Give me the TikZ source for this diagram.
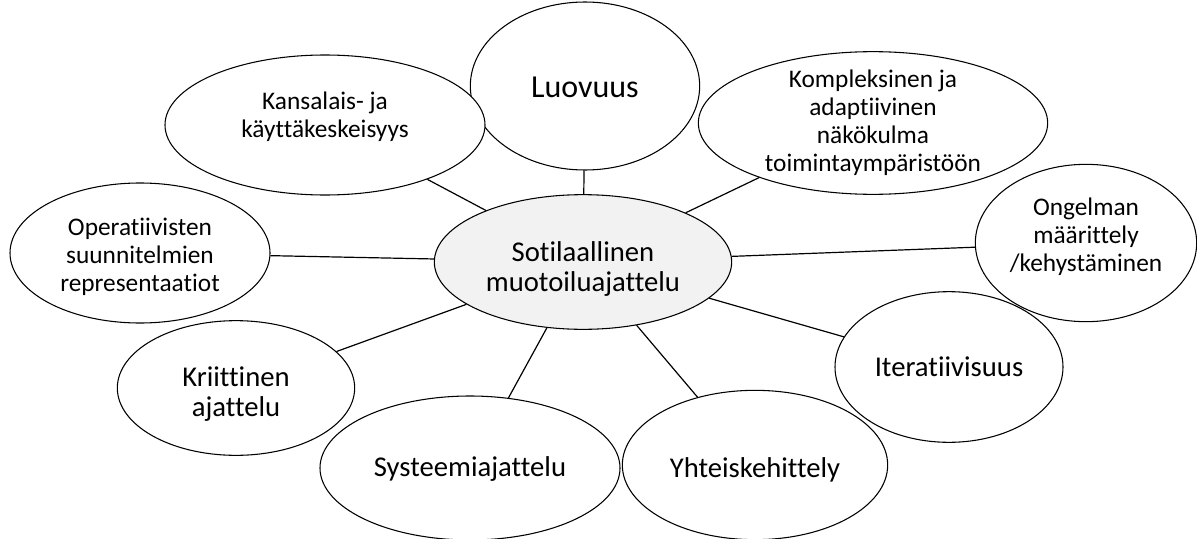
\documentclass[tikz,border=0pt]{standalone}
\usepackage{fontspec}
\setmainfont[Ligatures=NoCommon]{Carlito}
\usetikzlibrary{shapes.geometric}
\definecolor{hubfill}{HTML}{F2F2F2}
\tikzset{
  bubble/.style={ellipse, draw=black, line width=0.8pt, fill=white, inner sep=0pt},
  txt/.style={inner sep=0pt, align=center, font=\fontsize{19}{21}\selectfont},
  big/.style={font=\fontsize{21.5}{22.5}\selectfont},
  huge/.style={font=\fontsize{24}{26}\selectfont},
  link/.style={draw=black, line width=0.9pt},
}
\begin{document}
\begin{tikzpicture}[x=0.75pt, y=-0.75pt]
\useasboundingbox (0,0) rectangle (1197,539);
% the central concept and its nine facets (outlines)
\node[bubble, fill=hubfill, minimum width=223pt, minimum height=101pt] (hub) at (583,262) {};
\node[bubble, minimum width=172pt, minimum height=126pt] (luo) at (585,86) {};
\node[bubble, minimum width=240pt, minimum height=105pt] (kan) at (325,125) {};
\node[bubble, minimum width=262pt, minimum height=107pt] (kom) at (873,123) {};
\node[bubble, minimum width=166pt, minimum height=118pt] (ong) at (1086,243) {};
\node[bubble, minimum width=195pt, minimum height=105pt] (ope) at (140,253) {};
\node[bubble, minimum width=178pt, minimum height=101pt] (kri) at (236,388) {};
\node[bubble, minimum width=225pt, minimum height=108pt] (sys) at (470,468) {};
\node[bubble, minimum width=199pt, minimum height=112pt] (yht) at (755,465) {};
\node[bubble, minimum width=171pt, minimum height=113pt] (ite) at (949,367) {};
% labels, set a little off the geometric centres as in a text box
\node[txt, big]  (hub-t) at (583,269) {Sotilaallinen\\muotoiluajattelu};
\node[txt, huge] (luo-t) at (585,87)  {Luovuus};
\node[txt]       (kan-t) at (325,117) {Kansalais- ja\\käyttäkeskeisyys};
\node[txt]       (kom-t) at (873,123) {Kompleksinen ja\\adaptiivinen\\näkökulma\\toimintaympäristöön};
\node[txt]       (ong-t) at (1086,237) {Ongelman\\määrittely\\/kehystäminen};
\node[txt]       (ope-t) at (140,257) {Operatiivisten\\suunnitelmien\\representaatiot};
\node[txt, big]  (kri-t) at (236,394) {Kriittinen\\ajattelu};
\node[txt, big]  (sys-t) at (470,469) {Systeemiajattelu};
\node[txt, big]  (yht-t) at (755,470) {Yhteiskehittely};
\node[txt, big]  (ite-t) at (949,367) {Iteratiivisuus};
% spokes from the hub to each facet
\draw[link] (hub) -- (luo);
\draw[link] (hub) -- (kan);
\draw[link] (hub) -- (kom);
\draw[link] (hub) -- (ong);
\draw[link] (hub) -- (ope);
\draw[link] (hub) -- (kri);
\draw[link] (hub) -- (sys);
\draw[link] (hub) -- (yht);
\draw[link] (hub) -- (ite);
\end{tikzpicture}
\end{document}
